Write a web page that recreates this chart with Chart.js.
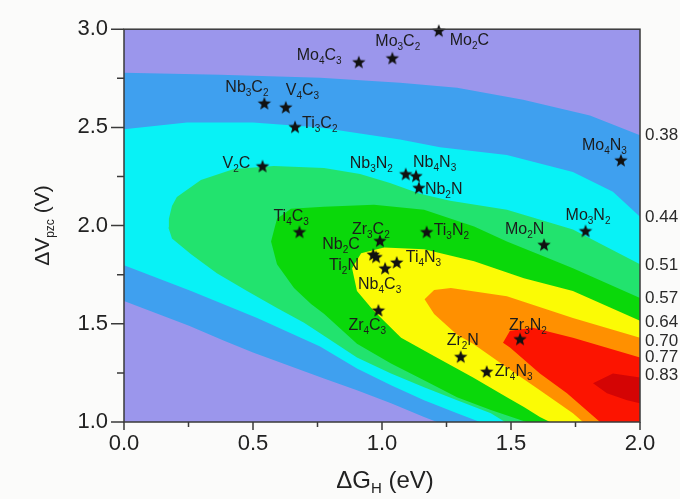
<!DOCTYPE html>
<html>
<head>
<meta charset="utf-8">
<script src="https://cdn.jsdelivr.net/npm/chart.js@4.4.0/dist/chart.umd.min.js"></script>
<style>
html, body { margin: 0; padding: 0; background: #fbfbfa; }
#wrap { width: 680px; height: 499px; }
</style>
</head>
<body>
<div id="wrap"><canvas id="chart" width="680" height="499"></canvas></div>
<script>
// Matériaux MXène (étoiles)
const materials = ['Mo2C', 'Mo3C2', 'Mo4C3', 'Nb3C2', 'V4C3', 'Ti3C2', 'V2C', 'Mo4N3',
    'Nb3N2', 'Nb4N3', 'Nb2N', 'Mo3N2', 'Mo2N', 'Ti3N2', 'Ti4C3', 'Zr3C2',
    'Nb2C', 'Nb4C3', 'Ti2N', 'Ti4N3', 'Zr4C3', 'Zr3N2', 'Zr2N', 'Zr4N3'];
const deltaG = [1.22, 1.04, 0.91, 0.544, 0.627, 0.663, 0.537, 1.926,
    1.092, 1.132, 1.143, 1.789, 1.628, 1.173, 0.680, 0.992,
    0.966, 0.977, 1.012, 1.057, 0.986, 1.535, 1.305, 1.406];
const deltaV = [2.99, 2.85, 2.83, 2.62, 2.60, 2.50, 2.30, 2.33,
    2.26, 2.25, 2.19, 1.97, 1.90, 1.965, 1.965, 1.92,
    1.85, 1.838, 1.78, 1.81, 1.566, 1.42, 1.33, 1.254];

// Niveaux des contours et position sur le bord droit
const levels = ['0.38', '0.44', '0.51', '0.57', '0.64', '0.70', '0.77', '0.83'];
const levelEdgeV = [2.46, 2.04, 1.80, 1.63, 1.51, 1.41, 1.33, 1.24];

// Contours (zones >= niveau), points [ΔG, ΔV]
const contour038 = [[0, 2.778], [0.372, 2.768], [0.760, 2.753], [1.070, 2.727], [1.291, 2.702], [1.547, 2.641],
    [1.806, 2.561], [2.0, 2.460], [2.0, 1.0], [1.213, 1.0], [1.163, 1.025], [1.035, 1.096], [0.903, 1.162],
    [0.775, 1.222], [0.5, 1.354], [0.388, 1.414], [0.252, 1.490], [0, 1.616]];
const contour044 = [[0, 2.490], [0.244, 2.525], [0.5, 2.525], [0.760, 2.5], [1.070, 2.439], [1.225, 2.399],
    [1.484, 2.359], [1.740, 2.273], [1.895, 2.172], [2.0, 2.045], [2.0, 1.0], [1.380, 1.0], [1.291, 1.045],
    [1.163, 1.111], [1.035, 1.187], [0.903, 1.273], [0.760, 1.385], [0.516, 1.530], [0.260, 1.667], [0, 1.798]];
const contour051 = [[1.477, 1.0], [1.422, 1.045], [1.291, 1.111], [1.163, 1.177], [1.035, 1.247], [0.903, 1.328],
    [0.775, 1.439], [0.698, 1.505], [0.593, 1.581], [0.477, 1.667], [0.360, 1.758], [0.260, 1.854],
    [0.186, 1.934], [0.172, 1.99], [0.174, 2.035], [0.186, 2.10], [0.205, 2.146], [0.298, 2.232],
    [0.426, 2.288], [0.581, 2.303], [0.775, 2.293], [0.915, 2.263], [1.031, 2.217], [1.147, 2.162],
    [1.264, 2.126], [1.484, 2.081], [1.740, 1.980], [2.0, 1.803], [2.0, 1.0]];
const contour057 = [[1.56, 1.0], [1.422, 1.061], [1.291, 1.126], [1.163, 1.212], [1.035, 1.298], [0.903, 1.399],
    [0.775, 1.551], [0.725, 1.601], [0.659, 1.682], [0.593, 1.803], [0.570, 1.919], [0.593, 2.035],
    [0.647, 2.086], [0.775, 2.096], [0.969, 2.106], [1.163, 2.081], [1.357, 1.995], [1.484, 1.919],
    [1.628, 1.843], [1.740, 1.783], [2.0, 1.631], [2.0, 1.0]];
const contour064 = [[1.651, 1.0], [1.612, 1.025], [1.550, 1.076], [1.484, 1.126], [1.353, 1.227], [1.21, 1.33],
    [1.074, 1.429], [0.965, 1.57], [0.903, 1.667], [0.884, 1.783], [0.919, 1.859], [1.008, 1.889],
    [1.163, 1.879], [1.357, 1.818], [1.550, 1.732], [1.740, 1.667], [2.0, 1.515], [2.0, 1.0]];
const contour070 = [[1.779, 1.0], [1.740, 1.045], [1.612, 1.162], [1.484, 1.278], [1.353, 1.399], [1.291, 1.444],
    [1.202, 1.55], [1.165, 1.625], [1.202, 1.672], [1.267, 1.682], [1.484, 1.64], [1.740, 1.530],
    [2.0, 1.429], [2.0, 1.0]];
const contour077 = [[1.845, 1.0], [1.806, 1.045], [1.717, 1.146], [1.612, 1.247], [1.496, 1.379], [1.469, 1.404],
    [1.496, 1.465], [1.585, 1.480], [1.740, 1.429], [2.0, 1.328], [2.0, 1.0]];
const contour083 = [[1.818, 1.197], [1.895, 1.247], [2.0, 1.227], [2.0, 1.096], [1.950, 1.111], [1.872, 1.146]];

// Style
const FONT = '"Liberation Sans", Arial, sans-serif';
const backgroundColor = '#9b96ec';
const contours = [contour038, contour044, contour051, contour057, contour064, contour070, contour077, contour083];
const bandColors = ['#3fa0ef', '#08f2f6', '#22e36e', '#0ad80a', '#fbfb05', '#ff9000', '#fc1400', '#d40404'];
// Décalage des étiquettes par rapport à l'étoile (px)
const labelOffsets = [[11, 14], [-17, -13], [-62, -3], [-39, -12], [0, -13], [7, 1], [-40, 1], [-39, -11],
    [-56, -7], [-3, -10], [6, 6], [-20, -11], [-39, -11], [7, 3], [-26, -11], [-28, -7],
    [-51, -6], [-18, 32], [-56, 1], [9, -1], [-30, 19], [-11, -10], [-14, -12], [8, 4]];

/**
 * Étoile pleine pour les points
 */
function makeStar(r) {
    const c = document.createElement('canvas');
    const s = Math.ceil(r * 2 + 2);
    c.width = s; c.height = s;
    const g = c.getContext('2d');
    g.fillStyle = '#111';
    g.beginPath();
    for (let i = 0; i < 10; i++) {
        const rad = i % 2 === 0 ? r : r * 0.42;
        const a = -Math.PI / 2 + i * Math.PI / 5;
        const px = s / 2 + rad * Math.cos(a);
        const py = s / 2 + rad * Math.sin(a);
        if (i === 0) g.moveTo(px, py); else g.lineTo(px, py);
    }
    g.closePath();
    g.fill();
    return c;
}

/**
 * Texte avec indices (chiffres en indice)
 */
function drawFormula(ctx, text, x, y, size, subSize, subDrop) {
    const parts = text.match(/[^\d]+|\d+/g);
    parts.forEach(p => {
        if (/^\d+$/.test(p)) {
            ctx.font = subSize + 'px ' + FONT;
            ctx.fillText(p, x, y + subDrop);
        } else {
            ctx.font = size + 'px ' + FONT;
            ctx.fillText(p, x, y);
        }
        x += ctx.measureText(p).width;
    });
    return x;
}

function drawParts(ctx, parts, x, y) {
    // parts : [texte, taille, décalage]
    let w = 0;
    parts.forEach(p => { ctx.font = p[1] + 'px ' + FONT; w += ctx.measureText(p[0]).width; });
    let cx = x - w / 2;
    parts.forEach(p => {
        ctx.font = p[1] + 'px ' + FONT;
        ctx.fillText(p[0], cx, y + p[2]);
        cx += ctx.measureText(p[0]).width;
    });
}

const decorPlugin = {
    id: 'decor',
    beforeDatasetsDraw(chart) {
        const a = chart.chartArea;
        const ctx = chart.ctx;
        ctx.save();
        ctx.fillStyle = backgroundColor;
        ctx.fillRect(a.left, a.top, a.right - a.left, a.bottom - a.top);
        ctx.restore();
    },
    afterDatasetsDraw(chart) {
        const ctx = chart.ctx;
        const xs = chart.scales.x, ys = chart.scales.y;
        ctx.save();
        ctx.fillStyle = '#1c1c1c';
        ctx.textBaseline = 'alphabetic';
        ctx.textAlign = 'left';
        materials.forEach((m, i) => {
            const px = xs.getPixelForValue(deltaG[i]);
            const py = ys.getPixelForValue(deltaV[i]);
            drawFormula(ctx, m, px + labelOffsets[i][0], py + labelOffsets[i][1], 16, 10, 4);
        });
        ctx.restore();
    },
    afterDraw(chart) {
        const ctx = chart.ctx;
        const a = chart.chartArea;
        const xs = chart.scales.x, ys = chart.scales.y;
        ctx.save();
        ctx.strokeStyle = '#3a3a3a';
        ctx.lineWidth = 1.5;
        ctx.strokeRect(a.left, a.top, a.right - a.left, a.bottom - a.top);
        // graduations
        ctx.beginPath();
        for (let v = 0; v <= 2.0001; v += 0.25) {
            const px = xs.getPixelForValue(v);
            const major = Math.abs(v * 2 - Math.round(v * 2)) < 1e-6;
            ctx.moveTo(px, a.bottom);
            ctx.lineTo(px, a.bottom + (major ? 8 : 5));
        }
        for (let v = 1; v <= 3.0001; v += 0.25) {
            const py = ys.getPixelForValue(v);
            const major = Math.abs(v * 2 - Math.round(v * 2)) < 1e-6;
            ctx.moveTo(a.left, py);
            ctx.lineTo(a.left - (major ? 13 : 7), py);
        }
        ctx.stroke();

        // étiquettes des niveaux
        ctx.fillStyle = '#2a2a2a';
        ctx.font = '17px ' + FONT;
        ctx.textAlign = 'left';
        ctx.textBaseline = 'middle';
        levels.forEach((l, i) => {
            ctx.fillText(l, a.right + 5, ys.getPixelForValue(levelEdgeV[i]));
        });

        // titres des axes
        ctx.fillStyle = '#222';
        ctx.textBaseline = 'alphabetic';
        drawParts(ctx, [['\u0394G', 24, 0], ['H', 15, 5], [' (eV)', 24, 0]], 385, 488);
        ctx.translate(49, (a.top + a.bottom) / 2);
        ctx.rotate(-Math.PI / 2);
        drawParts(ctx, [['\u0394V', 21, 0], ['pzc', 12, 5], [' (V)', 21, 0]], 0, 0);
        ctx.restore();
    }
};

const datasets = contours.map((c, i) => ({
    type: 'line',
    data: c.map(p => ({ x: p[0], y: p[1] })),
    backgroundColor: bandColors[i],
    borderWidth: 0,
    pointRadius: 0,
    fill: 'shape',
    tension: 0,
    order: 20 - i
}));

datasets.push({
    type: 'scatter',
    data: deltaG.map((g, i) => ({ x: g, y: deltaV[i] })),
    pointStyle: makeStar(7),
    pointRadius: 7,
    clip: false,
    order: 0
});

new Chart(document.getElementById('chart'), {
    type: 'scatter',
    data: { datasets: datasets },
    options: {
        responsive: false,
        animation: false,
        layout: { padding: { top: 26, right: 40, left: 0, bottom: 0 } },
        plugins: { legend: { display: false }, tooltip: { enabled: false } },
        scales: {
            x: {
                type: 'linear', min: 0, max: 2,
                ticks: { stepSize: 0.5, callback: v => v.toFixed(1), font: { family: FONT, size: 22 }, color: '#222', padding: 9, maxRotation: 0 },
                grid: { display: false, drawTicks: false },
                border: { display: false },
                afterFit: s => { s.height = 77; }
            },
            y: {
                type: 'linear', min: 1, max: 3,
                ticks: { stepSize: 0.5, callback: v => v.toFixed(1), font: { family: FONT, size: 22 }, color: '#222', padding: 16 },
                grid: { display: false, drawTicks: false },
                border: { display: false },
                afterFit: s => { s.width = 124; }
            }
        }
    },
    plugins: [decorPlugin]
});
</script>
</body>
</html>
